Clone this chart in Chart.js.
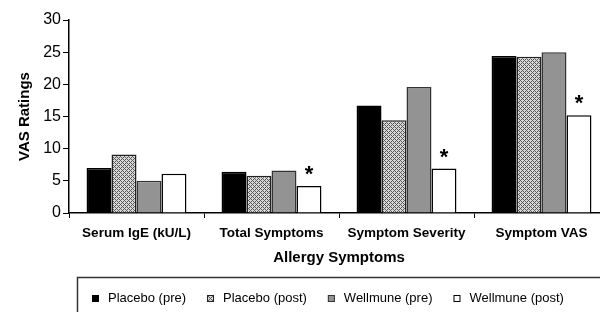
<!DOCTYPE html>
<html>
<head>
<meta charset="utf-8">
<script src="https://cdn.jsdelivr.net/npm/chart.js@4"></script>
<style>
html,body{margin:0;padding:0;width:600px;height:312px;overflow:hidden;background:#fff;}
canvas{display:block;}
</style>
</head>
<body>
<canvas id="c" width="620" height="312"></canvas>
<script>
const categories = ['Serum IgE (kU/L)', 'Total Symptoms', 'Symptom Severity', 'Symptom VAS'];
const seriesNames = ['Placebo (pre)', 'Placebo (post)', 'Wellmune (pre)', 'Wellmune (post)'];
const placeboPre   = [7.0, 6.4, 16.7, 24.4];
const placeboPost  = [9.1, 5.8, 14.4, 24.3];
const wellmunePre  = [5.0, 6.6, 19.6, 25.0];
const wellmunePost = [6.1, 4.2, 6.9, 15.2];
const significant  = [false, true, true, true]; // asterisk over Wellmune (post)
const yTicks = [0, 5, 10, 15, 20, 25, 30];

const FONT = "'Liberation Sans', Arial, sans-serif";

function hatch() {
  const p = document.createElement('canvas');
  p.width = 4; p.height = 4;
  const g = p.getContext('2d');
  g.fillStyle = '#d8d8d8'; g.fillRect(0, 0, 4, 4);
  g.fillStyle = '#595959';
  for (let x = 0; x < 4; x++) for (let y = 0; y < 4; y++) {
    if ((x + y) % 4 === 0 || ((x - y + 4) % 4 === 0)) g.fillRect(x, y, 1, 1);
  }
  return document.getElementById('c').getContext('2d').createPattern(p, 'repeat');
}
const hatchPattern = hatch();

const fills = ['#000000', hatchPattern, '#939393', '#ffffff'];
const borders = ['#000000', '#222222', '#333333', '#000000'];
const values = [placeboPre, placeboPost, wellmunePre, wellmunePost];

const asteriskPlugin = {
  id: 'asterisks',
  afterDatasetsDraw(chart) {
    const meta = chart.getDatasetMeta(3);
    const ctx = chart.ctx;
    ctx.save();
    ctx.fillStyle = '#000';
    ctx.font = 'bold 22px ' + FONT;
    ctx.textAlign = 'center';
    ctx.textBaseline = 'alphabetic';
    meta.data.forEach((bar, i) => {
      if (significant[i]) ctx.fillText('*', bar.x, bar.y - 5);
    });
    ctx.restore();
  }
};

const legendPlugin = {
  id: 'boxLegend',
  afterDraw(chart) {
    const ctx = chart.ctx;
    ctx.save();
    ctx.strokeStyle = '#333';
    ctx.lineWidth = 1.5;
    ctx.strokeRect(77.5, 277.5, 700, 100);
    ctx.font = '13px ' + FONT;
    ctx.textBaseline = 'middle';
    ctx.textAlign = 'left';
    let x = 92;
    const yc = 298.5;
    chart.data.datasets.forEach((ds) => {
      ctx.fillStyle = ds.backgroundColor;
      ctx.fillRect(x, yc - 3.5, 7, 7);
      ctx.strokeStyle = ds.borderColor;
      ctx.lineWidth = 1;
      ctx.strokeRect(x + 0.5, yc - 3, 6, 6);
      ctx.fillStyle = '#000';
      ctx.fillText(ds.label, x + 16, yc);
      x += 16 + ctx.measureText(ds.label).width + 21;
    });
    ctx.restore();
  }
};

new Chart(document.getElementById('c'), {
  type: 'bar',
  data: {
    labels: categories,
    datasets: seriesNames.map((name, i) => ({
      label: name,
      data: values[i],
      backgroundColor: fills[i],
      borderColor: borders[i],
      borderWidth: 1.5,
      borderSkipped: 'bottom',
      barPercentage: 1.0,
      categoryPercentage: 0.74
    }))
  },
  options: {
    responsive: false,
    animation: false,
    devicePixelRatio: 1,
    layout: { padding: { top: 20, right: 11, bottom: 35, left: 0 } },
    plugins: { legend: { display: false }, tooltip: { enabled: false } },
    scales: {
      x: {
        grid: { display: true, drawOnChartArea: false, drawTicks: true, tickLength: 5, color: '#000', offset: true },
        border: { display: true, color: '#000', width: 1.5 },
        ticks: { color: '#000', font: { family: FONT, size: 13.5, weight: 'bold' }, padding: 7, maxRotation: 0, autoSkip: false },
        title: { display: true, text: 'Allergy Symptoms', color: '#000', font: { family: FONT, size: 15, weight: 'bold' }, padding: { top: 0, bottom: 10 } },
        afterFit(s) { s.height = 64; }
      },
      y: {
        min: 0, max: 30,
        afterBuildTicks(s) { s.ticks = yTicks.map(v => ({ value: v })); },
        grid: { display: true, drawOnChartArea: false, drawTicks: true, tickLength: 6, color: '#000' },
        border: { display: true, color: '#000', width: 1.5 },
        ticks: { color: '#000', font: { family: FONT, size: 16 }, padding: 2 },
        title: { display: true, text: 'VAS Ratings', color: '#000', font: { family: FONT, size: 15, weight: 'bold' }, padding: { top: 16, bottom: 0 } },
        afterFit(s) { s.width = 69; }
      }
    }
  },
  plugins: [asteriskPlugin, legendPlugin]
});
</script>
</body>
</html>
